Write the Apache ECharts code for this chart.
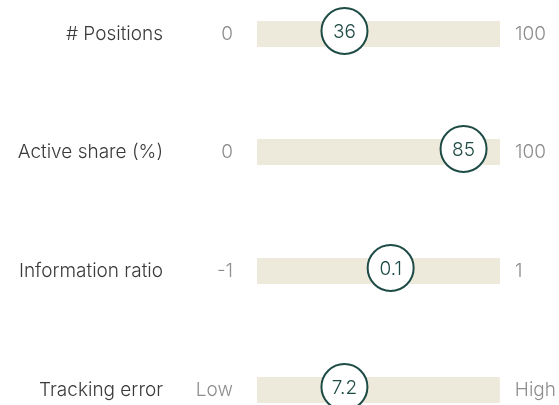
<!DOCTYPE html>
<html>
<head>
<meta charset="utf-8">
<script src="https://cdn.jsdelivr.net/npm/echarts@6/dist/echarts.min.js"></script>
<style>
  html, body { margin: 0; padding: 0; background: #fff; }
  #chart { width: 559px; height: 405px; }
</style>
</head>
<body>
<div id="chart"></div>
<script>
const metrics = ['# Positions', 'Active share (%)', 'Information ratio', 'Tracking error'];
const values = [36, 85, 0.1, 7.2];
const valueLabels = ['36', '85', '0.1', '7.2'];
const rangeMin = [0, 0, -1, 0];
const rangeMax = [100, 100, 1, 20];
const minLabels = ['0', '0', '-1', 'Low'];
const maxLabels = ['100', '100', '1', 'High'];

const FONT = 'Inter';
const TEAL = '#1d4b45';
const TRACK = '#eeeadb';
const rowTops = [21, 139, 258, 377];

const grid = [], xAxis = [], yAxis = [], series = [];

metrics.forEach((name, i) => {
  grid.push({
    left: 257, width: 243, top: rowTops[i], height: 26,
    show: true, backgroundColor: TRACK, borderWidth: 0,
  });
  xAxis.push({
    gridIndex: i, type: 'value', min: rangeMin[i], max: rangeMax[i],
    show: false, splitLine: { show: false },
  });
  // row name
  yAxis.push({
    gridIndex: i, type: 'category', data: [name], position: 'left',
    axisLine: { show: false }, axisTick: { show: false },
    axisLabel: { margin: 94, align: 'right', color: '#3a3a3a', fontSize: 19, fontFamily: FONT, fontWeight: 300 },
  });
  // min label
  yAxis.push({
    gridIndex: i, type: 'category', data: [minLabels[i]], position: 'left',
    axisLine: { show: false }, axisTick: { show: false },
    axisLabel: { margin: 24, align: 'right', color: '#8e8e8e', fontSize: 19, fontFamily: FONT, fontWeight: 300 },
  });
  // max label
  yAxis.push({
    gridIndex: i, type: 'category', data: [maxLabels[i]], position: 'right',
    axisLine: { show: false }, axisTick: { show: false },
    axisLabel: { margin: 15, align: 'left', color: '#8e8e8e', fontSize: 19, fontFamily: FONT, fontWeight: 300 },
  });
  series.push({
    type: 'scatter', xAxisIndex: i, yAxisIndex: i * 3,
    symbol: 'circle', symbolSize: 46, symbolOffset: [0, -3],
    clip: false,
    itemStyle: { color: '#fff', borderColor: TEAL, borderWidth: 2, opacity: 1 },
    label: {
      show: true, position: 'inside', offset: [0, 1],
      formatter: () => valueLabels[i],
      color: TEAL, fontSize: 19, fontFamily: FONT, fontWeight: 300,
    },
    data: [[values[i], 0]],
  });
});

const chart = echarts.init(document.getElementById('chart'));
chart.setOption({
  animation: false,
  backgroundColor: '#fff',
  grid, xAxis, yAxis, series,
});
</script>
</body>
</html>
